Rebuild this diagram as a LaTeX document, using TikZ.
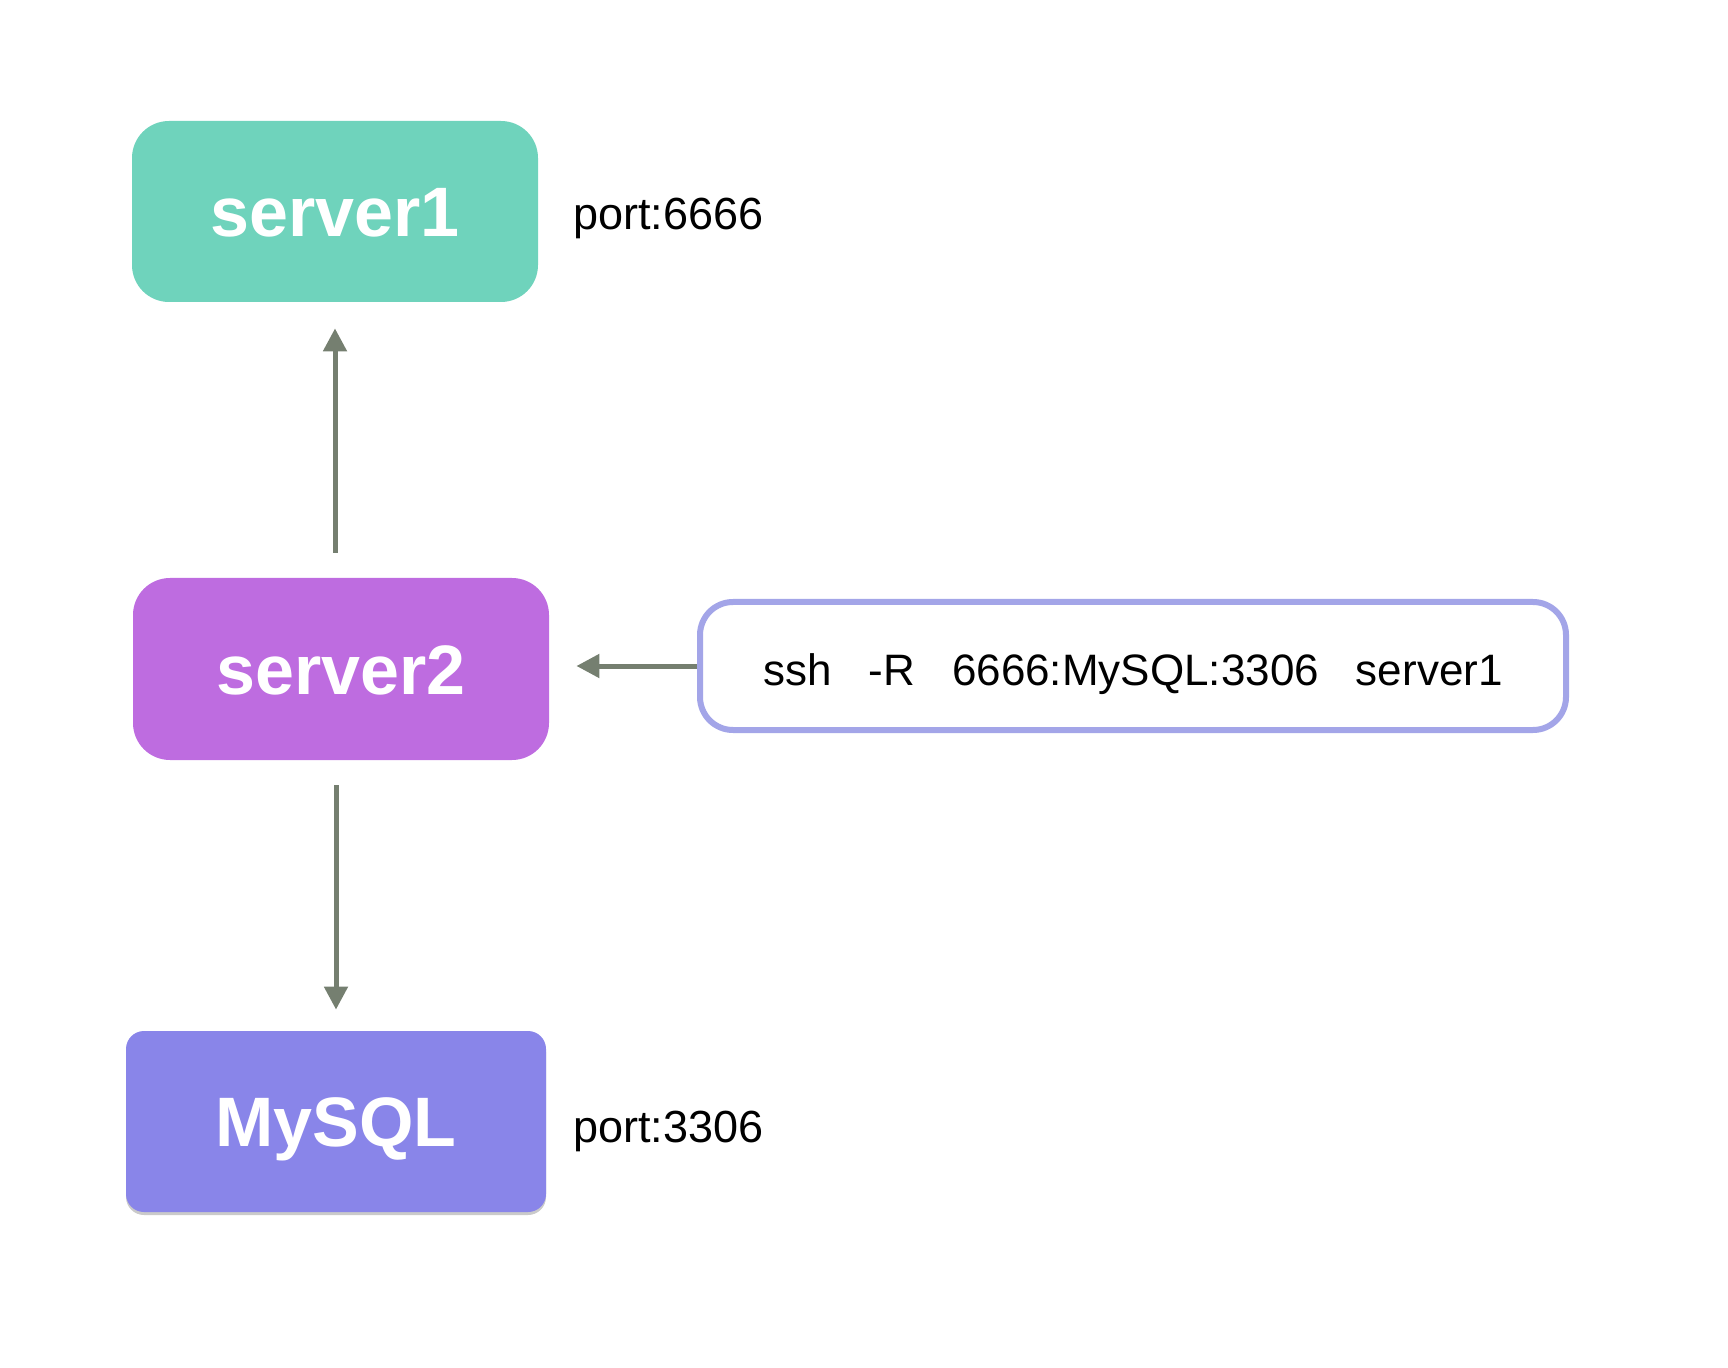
\documentclass[tikz,border=0pt]{standalone}
\usepackage{fontspec}
\setmainfont{Liberation Sans}
\usetikzlibrary{arrows.meta,shadows,calc}
\definecolor{tealbox}{RGB}{111,211,188}
\definecolor{purplebox}{RGB}{190,108,224}
\definecolor{mysqlbox}{RGB}{137,133,233}
\definecolor{sshborder}{RGB}{163,165,232}
\definecolor{arrowgray}{RGB}{117,127,112}
\tikzset{
  server/.style={rounded corners=18.5pt, inner sep=0pt, text=white,
    font=\fontsize{35}{42}\selectfont\bfseries, text height=25pt, text depth=0pt},
  portlabel/.style={anchor=base west, inner sep=0pt, font=\fontsize{22.5}{26}\selectfont},
  cmdbox/.style={draw=sshborder, line width=3pt, rounded corners=16.5pt, fill=white,
    minimum width=433pt, minimum height=64pt, inner sep=0pt,
    text height=19pt, text depth=0pt,
    font=\fontsize{22}{26}\selectfont},
  arr/.style={draw=arrowgray, line width=2.5pt,
    -{Triangle[length=11.5pt,width=11.5pt]}}
}
\begin{document}
\begin{tikzpicture}[x=0.5pt,y=-0.5pt]
\useasboundingbox (0,0) rectangle (1728,1368);
\node[server, fill=tealbox, minimum width=203pt, minimum height=90.5pt] (s1) at (335,211.5) {server1};
\node[server, fill=purplebox, minimum width=208pt, minimum height=91pt] (s2) at (341,669) {server2};
\node[server, fill=mysqlbox, rounded corners=9pt, minimum width=210pt, minimum height=90.5pt,
  drop shadow={shadow xshift=0pt, shadow yshift=-1.5pt, opacity=0.35, fill=black!60}] (ms) at (336,1121.5) {MySQL};
\node[portlabel] (p1) at (573,230) {port:6666};
\node[portlabel] (p2) at (573,1142) {port:3306};
\node[cmdbox] (ssh) at (1133,666) {ssh\hspace{18.5pt}-R\hspace{18.5pt}6666:MySQL:3306\hspace{18.5pt}server1};
\draw[arr, shorten <=12.5pt, shorten >=13pt] (s2.north -| s1.south) -- (s1.south);
\draw[arr, shorten <=12.5pt, shorten >=10.5pt] (s2.south -| ms.north) -- (ms.north);
\draw[arr, shorten >=13.5pt] (ssh.west) -- (ssh.west -| s2.east);
\end{tikzpicture}
\end{document}
